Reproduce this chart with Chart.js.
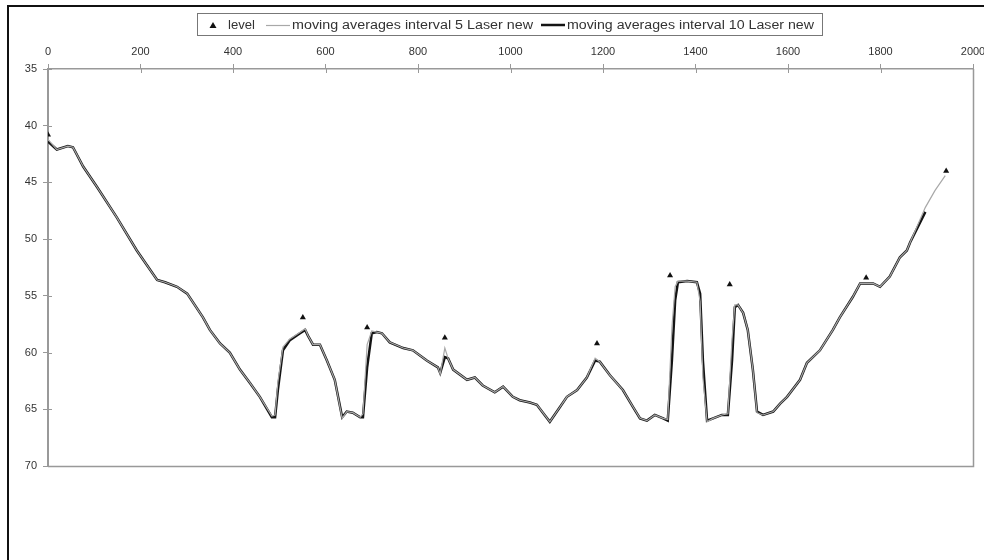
<!DOCTYPE html>
<html>
<head>
<meta charset="utf-8">
<script src="https://cdn.jsdelivr.net/npm/chart.js@4.4.0/dist/chart.umd.min.js"></script>
<style>
  html, body { margin: 0; padding: 0; background: #fff; }
  #wrap { position: relative; width: 984px; height: 560px; overflow: hidden; }
  #frame { position: absolute; left: 7px; top: 5px; width: 1000px; height: 600px;
           border-left: 2px solid #111; border-top: 2px solid #111; pointer-events: none; }
  canvas { position: absolute; left: 0; top: 0; }
</style>
</head>
<body>
<div id="wrap">
  <canvas id="chart" width="984" height="560"></canvas>
  <div id="frame"></div>
</div>
<script>
Chart.defaults.font.family = "Liberation Sans";
Chart.defaults.font.size = 11;
Chart.defaults.color = "#333";

// distancias (eje x) comunes a las dos medias moviles
var distance = [0, 19, 43, 54, 76, 106, 149, 192, 236, 253, 279, 301, 335, 350, 372, 393, 415, 437, 458, 484,
  491, 497, 508, 523, 545, 556, 562, 573, 588, 603, 620, 636, 646, 659, 675, 681, 690, 700, 711, 722,
  739, 768, 789, 819, 843, 848, 858, 865, 876, 906, 923, 940, 966, 984, 1005, 1020, 1042, 1057, 1070, 1085,
  1107, 1122, 1144, 1165, 1183, 1193, 1215, 1243, 1265, 1280, 1295, 1312, 1330, 1340, 1349, 1356, 1362, 1382, 1403, 1410,
  1416, 1425, 1438, 1457, 1470, 1479, 1485, 1492, 1503, 1513, 1524, 1533, 1546, 1568, 1583, 1598, 1626, 1641, 1669, 1697,
  1712, 1740, 1756, 1784, 1799, 1820, 1842, 1857, 1864, 1897, 1918, 1940];

var ma5 = [41.2, 42.1, 41.8, 41.9, 43.6, 45.4, 48.1, 51, 53.6, 53.8, 54.2, 54.8, 56.9, 58, 59.2, 60, 61.5, 62.7, 63.9, 65.6,
  65.5, 62.6, 59.5, 58.8, 58.2, 57.9, 58.5, 59.3, 59.3, 60.7, 62.4, 65.8, 65.2, 65.3, 65.7, 65.4, 59.3, 58.1, 58.2, 58.3,
  59.1, 59.6, 59.8, 60.7, 61.3, 61.9, 59.6, 60.5, 61.5, 62.4, 62.2, 62.9, 63.5, 63, 63.9, 64.2, 64.4, 64.6, 65.3, 66.1,
  64.8, 63.9, 63.3, 62.2, 60.5, 60.8, 62, 63.3, 64.8, 65.8, 66, 65.5, 65.8, 65.9, 57.8, 54.2, 53.7, 53.7, 53.8, 55.5,
  62.2, 66.1, 65.8, 65.5, 65.4, 58.8, 55.8, 55.8, 56.5, 58, 61.5, 65.3, 65.5, 65.2, 64.5, 63.9, 62.4, 60.9, 59.8, 58,
  56.9, 55.1, 53.9, 53.9, 54.2, 53.3, 51.6, 51, 50.3, 47.2, 45.7, 44.4];

var ma10 = [41.4, 42.1, 41.8, 41.9, 43.6, 45.4, 48.1, 51, 53.6, 53.8, 54.2, 54.8, 56.9, 58, 59.2, 60, 61.5, 62.7, 63.9, 65.7,
  65.7, 63.3, 59.8, 58.9, 58.3, 58, 58.5, 59.3, 59.3, 60.7, 62.4, 65.7, 65.2, 65.3, 65.7, 65.7, 61.3, 58.3, 58.2, 58.3,
  59.1, 59.6, 59.8, 60.7, 61.3, 61.8, 60.4, 60.5, 61.5, 62.4, 62.2, 62.9, 63.5, 63, 63.9, 64.2, 64.4, 64.6, 65.3, 66.1,
  64.8, 63.9, 63.3, 62.2, 60.7, 60.8, 62, 63.3, 64.8, 65.8, 66, 65.5, 65.8, 66, 60.7, 55.4, 53.8, 53.7, 53.8, 54.8,
  60.7, 66, 65.8, 65.5, 65.5, 60.7, 56, 55.8, 56.5, 58, 61.5, 65.2, 65.5, 65.2, 64.5, 63.9, 62.4, 60.9, 59.8, 58,
  56.9, 55.1, 53.9, 53.9, 54.2, 53.3, 51.6, 51, 50.3, 47.6, null, null];

// puntos de nivel (triangulos)
var levelDistance = [0, 551, 690, 858, 1187, 1345, 1474, 1769, 1942];
var levelValue = [40.8, 56.9, 57.8, 58.7, 59.2, 53.2, 54, 53.4, 44];

var xTicks = [0, 200, 400, 600, 800, 1000, 1200, 1400, 1600, 1800, 2000];
var yTicks = [35, 40, 45, 50, 55, 60, 65, 70];

function pares(xs, ys) {
  return xs.map(function (x, i) {
    return { x: x, y: ys[i] };
  });
}

// texto estirado a lo ancho, como en la leyenda original
function texto(ctx, s, x, y, ancho) {
  var w = ctx.measureText(s).width;
  ctx.save();
  ctx.translate(x, y);
  ctx.scale(ancho / w, 1);
  ctx.fillText(s, 0, 0);
  ctx.restore();
}

// marco gris del area, marcas interiores y leyenda con borde
var marcos = {
  id: "marcos",
  afterDraw: function (chart) {
    var ctx = chart.ctx;
    var a = chart.chartArea;
    var sx = chart.scales.x, sy = chart.scales.y;
    ctx.save();
    ctx.strokeStyle = "#999";
    ctx.lineWidth = 1.5;
    ctx.beginPath();
    ctx.moveTo(a.left, a.bottom + 0.5);
    ctx.lineTo(a.right + 0.5, a.bottom + 0.5);
    ctx.lineTo(a.right + 0.5, a.top);
    ctx.stroke();

    ctx.lineWidth = 1;
    ctx.beginPath();
    xTicks.forEach(function (v) {
      var px = Math.round(sx.getPixelForValue(v)) + 0.5;
      ctx.moveTo(px, a.top);
      ctx.lineTo(px, a.top + 4);
    });
    yTicks.forEach(function (v) {
      var py = Math.round(sy.getPixelForValue(v)) + 0.5;
      ctx.moveTo(a.left, py);
      ctx.lineTo(a.left + 4, py);
    });
    ctx.stroke();

    // leyenda
    ctx.strokeStyle = "#777";
    ctx.lineWidth = 1;
    ctx.strokeRect(197.5, 13.5, 625, 22);
    var ds = chart.data.datasets;
    var yc = 25;
    ctx.fillStyle = "#111";
    ctx.beginPath();
    ctx.moveTo(213, yc - 3);
    ctx.lineTo(216.5, yc + 3);
    ctx.lineTo(209.5, yc + 3);
    ctx.closePath();
    ctx.fill();
    ctx.strokeStyle = ds[1].borderColor;
    ctx.lineWidth = 1.2;
    ctx.beginPath();
    ctx.moveTo(266, yc + 0.5);
    ctx.lineTo(290, yc + 0.5);
    ctx.stroke();
    ctx.strokeStyle = ds[2].borderColor;
    ctx.lineWidth = 2.5;
    ctx.beginPath();
    ctx.moveTo(541, yc);
    ctx.lineTo(565, yc);
    ctx.stroke();
    ctx.fillStyle = "#333";
    ctx.font = "12px 'Liberation Sans'";
    ctx.textBaseline = "middle";
    texto(ctx, ds[0].label, 228, yc + 1, 27);
    texto(ctx, ds[1].label, 292, yc + 1, 241);
    texto(ctx, ds[2].label, 567, yc + 1, 247);
    ctx.restore();
  }
};

new Chart("chart", {
  type: "line",
  data: {
    datasets: [
      {
        label: "level",
        data: pares(levelDistance, levelValue),
        showLine: false,
        pointStyle: "triangle",
        pointRadius: 3.5,
        pointBackgroundColor: "#111",
        pointBorderColor: "#111",
        pointBorderWidth: 0,
        borderColor: "#111",
        backgroundColor: "#111"
      },
      {
        label: "moving averages interval 5 Laser new",
        data: pares(distance, ma5),
        borderColor: "#a8a8a8",
        backgroundColor: "#a8a8a8",
        borderWidth: 1.2,
        pointRadius: 0,
        tension: 0
      },
      {
        label: "moving averages interval 10 Laser new",
        data: pares(distance, ma10),
        borderColor: "#141414",
        backgroundColor: "#141414",
        borderWidth: 2.5,
        pointRadius: 0,
        tension: 0
      }
    ]
  },
  options: {
    responsive: false,
    animation: false,
    layout: { padding: { left: 8, right: 11, top: 0, bottom: 94 } },
    plugins: {
      tooltip: { enabled: false },
      legend: { display: false }
    },
    scales: {
      x: {
        type: "linear",
        position: "top",
        min: 0,
        max: 2000,
        afterBuildTicks: function (s) {
          s.ticks = xTicks.map(function (v) { return { value: v }; });
        },
        afterFit: function (s) {
          s.height = 69;
          s.paddingLeft = 0;
          s.paddingRight = 0;
        },
        ticks: {
          padding: 5,
          color: "#333",
          maxRotation: 0,
          callback: function (v) { return String(v); }
        },
        grid: { drawOnChartArea: false, tickLength: 5, color: "#999", tickWidth: 1 },
        border: { color: "#999", width: 1.5 }
      },
      y: {
        type: "linear",
        reverse: true,
        min: 35,
        max: 70,
        afterBuildTicks: function (s) {
          s.ticks = yTicks.map(function (v) { return { value: v }; });
        },
        afterFit: function (s) {
          s.width = 40;
          s.paddingTop = 0;
          s.paddingBottom = 0;
        },
        ticks: { padding: 6, color: "#333", callback: function (v) { return String(v); } },
        grid: { drawOnChartArea: false, tickLength: 5, color: "#999" },
        border: { color: "#999", width: 2 }
      }
    }
  },
  plugins: [marcos]
});
</script>
</body>
</html>
